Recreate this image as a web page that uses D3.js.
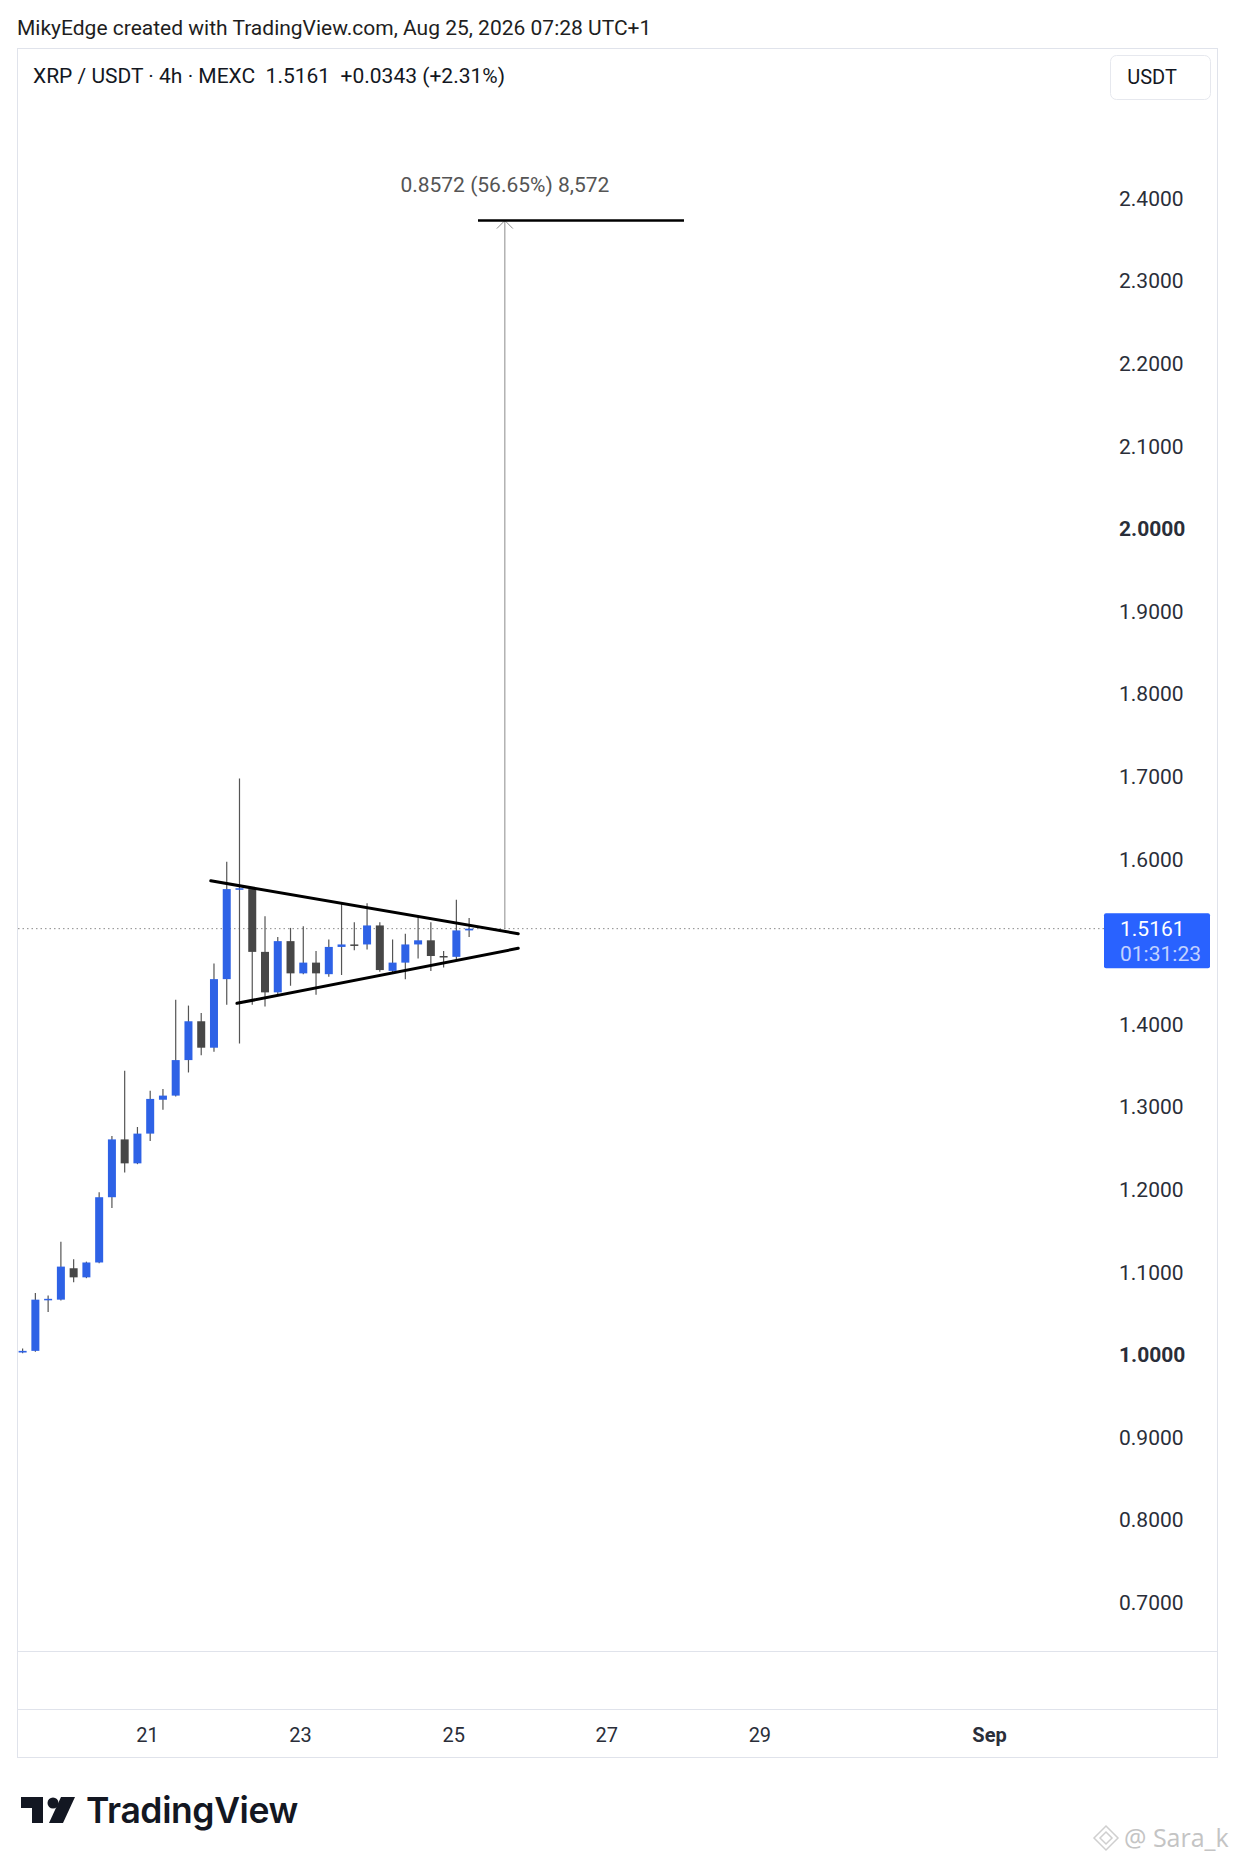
<!DOCTYPE html>
<html>
<head>
<meta charset="utf-8">
<script src="https://cdn.jsdelivr.net/npm/d3@7"></script>
<style>
  html, body { margin: 0; padding: 0; background: #fff; }
  svg { display: block; font-family: Roboto, "Noto Sans", sans-serif; }
</style>
</head>
<body>
<div id="chart"></div>
<script>
// 4h bars, XRP/USDT (times in UTC+1)
const firstBar = '2026-08-19T09:00';
const opens  = [1.003, 1.005, 1.067, 1.067, 1.105, 1.094, 1.112, 1.191, 1.261, 1.232, 1.268, 1.309,
                1.314, 1.357, 1.404, 1.372, 1.455, 1.564, 1.564, 1.488, 1.439, 1.501, 1.462, 1.475,
                1.461, 1.494, 1.497, 1.497, 1.520, 1.465, 1.475, 1.497, 1.502, 1.483, 1.482, 1.514];
const highs  = [1.008, 1.075, 1.072, 1.137, 1.116, 1.113, 1.197, 1.265, 1.344, 1.276, 1.320, 1.322,
                1.430, 1.423, 1.414, 1.474, 1.597, 1.698, 1.566, 1.531, 1.506, 1.517, 1.519, 1.489,
                1.503, 1.547, 1.524, 1.547, 1.524, 1.503, 1.510, 1.531, 1.524, 1.489, 1.551, 1.529];
const lows   = [1.002, 1.004, 1.052, 1.066, 1.088, 1.093, 1.111, 1.178, 1.221, 1.231, 1.259, 1.297,
                1.313, 1.342, 1.363, 1.367, 1.424, 1.377, 1.424, 1.422, 1.437, 1.447, 1.461, 1.436,
                1.458, 1.460, 1.490, 1.491, 1.464, 1.463, 1.455, 1.480, 1.465, 1.469, 1.479, 1.506];
const closes = [1.005, 1.067, 1.068, 1.107, 1.094, 1.112, 1.191, 1.261, 1.232, 1.268, 1.310, 1.314,
                1.357, 1.404, 1.372, 1.455, 1.564, 1.565, 1.488, 1.439, 1.501, 1.462, 1.475, 1.462,
                1.494, 1.497, 1.496, 1.520, 1.466, 1.475, 1.497, 1.502, 1.483, 1.482, 1.514, 1.5161];

// 1.5000 sits under the last-price tag, so it is not shown
const priceTicks = [0.7, 0.8, 0.9, 1.0, 1.1, 1.2, 1.3, 1.4, 1.6, 1.7, 1.8, 1.9, 2.0, 2.1, 2.2, 2.3, 2.4];
const boldPrices = [1.0, 2.0];
const dateTicks = ['2026-08-21', '2026-08-23', '2026-08-25', '2026-08-27', '2026-08-29', '2026-09-01'];

// drawings: [time, price]
const upperTrend = [['2026-08-21T20:00', 1.574], ['2026-08-25T20:24', 1.510]];
const lowerTrend = [['2026-08-22T04:12', 1.4257], ['2026-08-25T20:24', 1.4923]];
const measureAt = '2026-08-25T16:12';
const measureFrom = 1.5161, measureTo = 2.3733;
const targetLine = [['2026-08-25T07:47', 2.3733], ['2026-08-28T00:22', 2.3733]];
const lastPrice = 1.5161;

const W = 1236, H = 1864;
const upColor = '#2e62e6', downColor = '#474747', wickColor = '#555';
const border = '#e0e3eb';

const parse = d3.utcParse('%Y-%m-%dT%H:%M');
const parseDay = d3.utcParse('%Y-%m-%d');
const t0 = parse(firstBar);
const bars = opens.map((o, i) => ({
  t: d3.utcHour.offset(t0, 4 * i), o, h: highs[i], l: lows[i], c: closes[i]
}));

const x = d3.scaleUtc()
  .domain([parseDay('2026-08-21'), parseDay('2026-09-01')])
  .range([147, 989]);
const y = d3.scaleLinear()
  .domain([1.0, 2.4])
  .range([1355, 198.5]);

const svg = d3.select('#chart').append('svg')
  .attr('width', W).attr('height', H);
svg.append('rect').attr('width', W).attr('height', H).attr('fill', '#fff');

// header
svg.append('text').attr('x', 17).attr('y', 35)
  .attr('font-size', 21).attr('fill', '#1e1e1e')
  .text('MikyEdge created with TradingView.com, Aug 25, 2026 07:28 UTC+1');

// frame
svg.append('rect').attr('x', 17.5).attr('y', 48.5).attr('width', 1200).attr('height', 1709)
  .attr('fill', 'none').attr('stroke', border);
[1651.5, 1709.5].forEach(yy => {
  svg.append('line').attr('x1', 18).attr('x2', 1217).attr('y1', yy).attr('y2', yy)
    .attr('stroke', border);
});

// legend
svg.append('text').attr('x', 33).attr('y', 83)
  .attr('font-size', 21).attr('fill', '#131722').attr('xml:space', 'preserve')
  .text('XRP / USDT · 4h · MEXC  1.5161  +0.0343 (+2.31%)');

// currency button
svg.append('rect').attr('x', 1110.5).attr('y', 55.5).attr('width', 100).attr('height', 44)
  .attr('rx', 6).attr('fill', '#fff').attr('stroke', '#e6e8ee');
svg.append('text').attr('x', 1152).attr('y', 84).attr('text-anchor', 'middle')
  .attr('font-size', 20).attr('fill', '#131722').text('USDT');

// price axis
const yAxis = svg.append('g')
  .attr('transform', 'translate(1119,0)')
  .call(d3.axisRight(y).tickValues(priceTicks).tickSize(0).tickPadding(0).tickFormat(d3.format('.4f')));
yAxis.select('.domain').remove();
yAxis.selectAll('text')
  .attr('font-size', 21).attr('fill', '#2a2e39').attr('font-family', 'Roboto')
  .attr('font-weight', d => boldPrices.includes(d) ? 700 : 400);

// time axis
const xAxis = svg.append('g')
  .attr('transform', 'translate(0,1710)')
  .call(d3.axisBottom(x).tickValues(dateTicks.map(parseDay)).tickSize(0)
    .tickFormat(d => d.getUTCDate() === 1 ? d3.utcFormat('%b')(d) : d3.utcFormat('%d')(d)));
xAxis.select('.domain').remove();
xAxis.selectAll('text')
  .attr('y', 32).attr('dy', 0)
  .attr('font-size', 20).attr('fill', '#2a2e39').attr('font-family', 'Roboto')
  .attr('font-weight', d => d.getUTCDate() === 1 ? 700 : 400);

// last price dotted line
svg.append('line')
  .attr('x1', 18).attr('x2', 1104)
  .attr('y1', y(lastPrice)).attr('y2', y(lastPrice))
  .attr('stroke', '#8a8a8a').attr('stroke-width', 1).attr('stroke-dasharray', '1.5 3');

// candles
const bodyW = 8;
const candle = svg.append('g').selectAll('g').data(bars).join('g');
candle.append('line')
  .attr('x1', d => x(d.t)).attr('x2', d => x(d.t))
  .attr('y1', d => y(d.h)).attr('y2', d => y(d.l))
  .attr('stroke', wickColor).attr('stroke-width', 1.2);
candle.append('rect')
  .attr('x', d => x(d.t) - bodyW / 2)
  .attr('width', bodyW)
  .attr('y', d => y(Math.max(d.o, d.c)))
  .attr('height', d => Math.max(1.5, Math.abs(y(d.o) - y(d.c))))
  .attr('fill', d => d.c >= d.o ? upColor : downColor);

// triangle trend lines
const trend = d3.line().x(d => x(parse(d[0]))).y(d => y(d[1]));
[upperTrend, lowerTrend].forEach(tl => {
  svg.append('path').attr('d', trend(tl))
    .attr('fill', 'none').attr('stroke', '#000').attr('stroke-width', 3).attr('stroke-linecap', 'round');
});

// measure tool
const mx = x(parse(measureAt));
svg.append('line')
  .attr('x1', mx).attr('x2', mx)
  .attr('y1', y(measureFrom)).attr('y2', y(measureTo))
  .attr('stroke', '#8c8c8c').attr('stroke-width', 1);
svg.append('path')
  .attr('d', `M${mx - 8},${y(measureTo) + 8}L${mx},${y(measureTo)}L${mx + 8},${y(measureTo) + 8}`)
  .attr('fill', 'none').attr('stroke', '#8c8c8c').attr('stroke-width', 1);
svg.append('path').attr('d', trend(targetLine))
  .attr('fill', 'none').attr('stroke', '#000').attr('stroke-width', 2.5);
svg.append('text')
  .attr('x', mx).attr('y', 192).attr('text-anchor', 'middle')
  .attr('font-size', 21).attr('fill', '#555')
  .text('0.8572 (56.65%) 8,572');

// last price tag
const ty = y(lastPrice);
svg.append('rect').attr('x', 1104).attr('y', ty - 15.5).attr('width', 106).attr('height', 55)
  .attr('rx', 2).attr('fill', '#2962ff');
svg.append('text').attr('x', 1120).attr('y', ty + 7.5)
  .attr('font-size', 21).attr('fill', '#fff').text('1.5161');
svg.append('text').attr('x', 1120).attr('y', ty + 32.5)
  .attr('font-size', 21).attr('fill', 'rgba(255,255,255,0.72)').text('01:31:23');

// TradingView logo
const logo = svg.append('g').attr('fill', '#131722');
logo.append('path').attr('d', 'M21,1797H43V1823H32V1808H21Z');
logo.append('circle').attr('cx', 53).attr('cy', 1803).attr('r', 5.5);
logo.append('path').attr('d', 'M61,1797H75L63,1823H49Z');
svg.append('text').attr('x', 86).attr('y', 1823)
  .attr('font-family', 'Inter, Lato, sans-serif').attr('font-weight', 600)
  .attr('font-size', 35.5).attr('letter-spacing', -0.4).attr('fill', '#131722')
  .text('TradingView');

// watermark
svg.append('path')
  .attr('d', 'M1106,1826L1118,1838L1106,1850L1094,1838Z M1106,1832L1112,1838L1106,1844L1100,1838Z')
  .attr('fill', 'none').attr('stroke', '#cfcfcf').attr('stroke-width', 1.5);
svg.append('text').attr('x', 1124).attr('y', 1847)
  .attr('font-size', 25).attr('fill', '#c4c4c4').attr('font-family', '"Open Sans", sans-serif')
  .text('@ Sara_k');
</script>
</body>
</html>
